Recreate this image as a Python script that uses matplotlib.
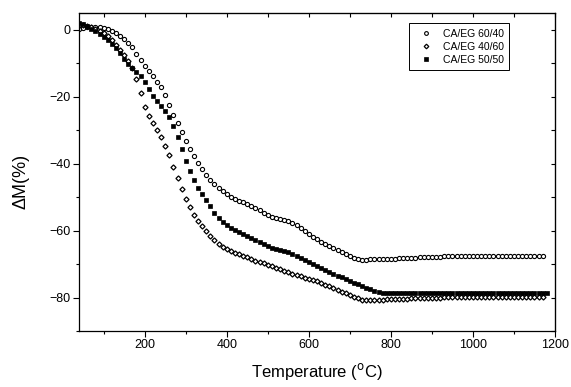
import numpy as np
import matplotlib
matplotlib.use("Agg")
import matplotlib.pyplot as plt
from matplotlib.ticker import MultipleLocator

plt.rcParams['font.family'] = ['Liberation Sans', 'DejaVu Sans']

# Temperature sampling grid (°C), one reading every 10 °C
temps_6040 = np.arange(40, 1171, 10)
temps_4060 = np.arange(40, 1171, 10)
temps_5050 = np.arange(40, 1181, 10)

dm_6040 = [0.3, 0.5, 0.7, 0.8, 0.8, 0.7, 0.5, 0.2, -0.3, -1.0,
           -1.8, -2.8, -4.0, -5.2, -7.2, -9.0, -10.8, -12.2, -13.8, -15.5,
           -17.1, -19.5, -22.6, -25.6, -28.0, -30.6, -33.2, -35.5, -37.8, -39.7,
           -41.6, -43.3, -44.8, -46.1, -47.3, -48.3, -49.2, -49.9, -50.5, -51.1,
           -51.6, -52.1, -52.7, -53.3, -54.0, -54.7, -55.3, -55.8, -56.2, -56.5,
           -56.8, -57.1, -57.6, -58.3, -59.2, -60.2, -61.1, -61.9, -62.6, -63.3,
           -64.0, -64.6, -65.2, -65.8, -66.4, -67.0, -67.6, -68.2, -68.6, -68.7,
           -68.7, -68.6, -68.6, -68.6, -68.5, -68.5, -68.4, -68.4, -68.3, -68.3,
           -68.2, -68.2, -68.1, -68.0, -67.9, -67.9, -67.8, -67.8, -67.8, -67.7,
           -67.7, -67.7, -67.7, -67.6, -67.6, -67.6, -67.6, -67.6, -67.6, -67.5,
           -67.5, -67.5, -67.5, -67.5, -67.5, -67.5, -67.5, -67.5, -67.5, -67.5,
           -67.5, -67.5, -67.5, -67.5]

dm_4060 = [1.5, 1.5, 1.2, 0.8, 0.3, -0.3, -1.0, -2.0, -3.2, -4.5,
           -6.0, -7.5, -9.2, -11.5, -14.8, -19.0, -23.0, -25.8, -28.0, -30.0,
           -32.0, -34.8, -37.5, -41.0, -44.3, -47.5, -50.5, -53.0, -55.2, -57.0,
           -58.5, -60.0, -61.6, -62.9, -64.0, -64.9, -65.5, -66.1, -66.6, -67.1,
           -67.5, -68.0, -68.5, -69.0, -69.4, -69.8, -70.2, -70.6, -71.1, -71.6,
           -72.1, -72.5, -72.9, -73.3, -73.7, -74.1, -74.4, -74.8, -75.2, -75.7,
           -76.2, -76.7, -77.2, -77.7, -78.2, -78.7, -79.2, -79.7, -80.2, -80.6,
           -80.8, -80.8, -80.8, -80.7, -80.6, -80.5, -80.5, -80.4, -80.4, -80.3,
           -80.3, -80.2, -80.2, -80.1, -80.1, -80.0, -80.0, -80.0, -80.0, -79.9,
           -79.9, -79.9, -79.9, -79.9, -79.9, -79.9, -79.9, -79.9, -79.9, -79.9,
           -79.9, -79.9, -79.9, -79.9, -79.9, -79.9, -79.9, -79.9, -79.9, -79.9,
           -79.9, -79.9, -79.9, -79.9]

dm_5050 = [2.0, 1.7, 1.0, 0.3, -0.4, -1.2, -2.1, -3.1, -4.2, -5.4,
           -7.0, -8.6, -10.1, -11.3, -12.6, -13.9, -15.5, -17.8, -19.8, -21.3,
           -22.7, -24.2, -26.2, -28.8, -32.0, -35.5, -39.2, -42.3, -45.0, -47.2,
           -49.2, -51.0, -52.8, -54.6, -56.2, -57.3, -58.3, -59.2, -59.9, -60.5,
           -61.1, -61.7, -62.3, -62.9, -63.5, -64.1, -64.6, -65.1, -65.5, -65.9,
           -66.2, -66.5, -66.9, -67.5, -68.1, -68.7, -69.3, -69.9, -70.5, -71.1,
           -71.7, -72.3, -72.9, -73.5, -74.0, -74.5, -75.1, -75.6, -76.1, -76.6,
           -77.1, -77.6, -78.0, -78.4, -78.6, -78.7, -78.7, -78.7, -78.6, -78.6,
           -78.6, -78.6, -78.6, -78.6, -78.6, -78.6, -78.6, -78.6, -78.5, -78.5,
           -78.5, -78.5, -78.5, -78.5, -78.5, -78.5, -78.5, -78.5, -78.5, -78.5,
           -78.5, -78.5, -78.5, -78.5, -78.5, -78.5, -78.5, -78.5, -78.5, -78.5,
           -78.5, -78.5, -78.5, -78.5, -78.5]

labels = ["CA/EG 60/40", "CA/EG 40/60", "CA/EG 50/50"]

fig = plt.figure(figsize=(5.71, 3.87), dpi=100)
ax = fig.add_axes([0.1384, 0.1447, 0.8336, 0.8217])

ax.plot(temps_6040, dm_6040, linestyle='none', marker='o', markersize=3.0,
        markerfacecolor='white', markeredgecolor='black', markeredgewidth=0.8,
        label=labels[0])
ax.plot(temps_4060, dm_4060, linestyle='none', marker='D', markersize=2.6,
        markerfacecolor='white', markeredgecolor='black', markeredgewidth=0.9,
        label=labels[1])
ax.plot(temps_5050, dm_5050, linestyle='none', marker='s', markersize=2.7,
        markerfacecolor='black', markeredgecolor='black', markeredgewidth=0.5,
        label=labels[2])

ax.set_xlim(40, 1200)
ax.set_ylim(-90, 5)
ax.xaxis.set_major_locator(MultipleLocator(200))
ax.xaxis.set_minor_locator(MultipleLocator(100))
ax.yaxis.set_major_locator(MultipleLocator(20))
ax.yaxis.set_minor_locator(MultipleLocator(10))

ax.tick_params(which='major', direction='out', length=4, width=0.8, labelsize=9, pad=2)
ax.tick_params(which='minor', direction='out', length=2.5, width=0.8)

for sp in ax.spines.values():
    sp.set_linewidth(0.9)

sec_top = ax.secondary_xaxis('top')
sec_top.xaxis.set_major_locator(MultipleLocator(200))
sec_top.xaxis.set_minor_locator(MultipleLocator(100))
sec_top.tick_params(which='both', direction='in', length=3, width=0.8, labeltop=False)
sec_right = ax.secondary_yaxis('right')
sec_right.yaxis.set_major_locator(MultipleLocator(20))
sec_right.yaxis.set_minor_locator(MultipleLocator(10))
sec_right.tick_params(which='both', direction='in', length=3, width=0.8, labelright=False)

ax.set_xlabel("Temperature ($^{\\rm o}$C)", fontsize=12, labelpad=7)
ax.set_ylabel("\u0394M(%)", fontsize=13)
ax.yaxis.set_label_coords(-0.103, 0.469)

leg = ax.legend(loc='upper right', bbox_to_anchor=(0.903, 0.967), fontsize=7.5,
                frameon=True, fancybox=False, edgecolor='black', framealpha=1,
                handlelength=2.2, handletextpad=0.5, borderpad=0.5,
                labelspacing=0.3, markerscale=0.9, borderaxespad=0)
leg.get_frame().set_linewidth(0.7)

fig.savefig("out.png", dpi=100)
